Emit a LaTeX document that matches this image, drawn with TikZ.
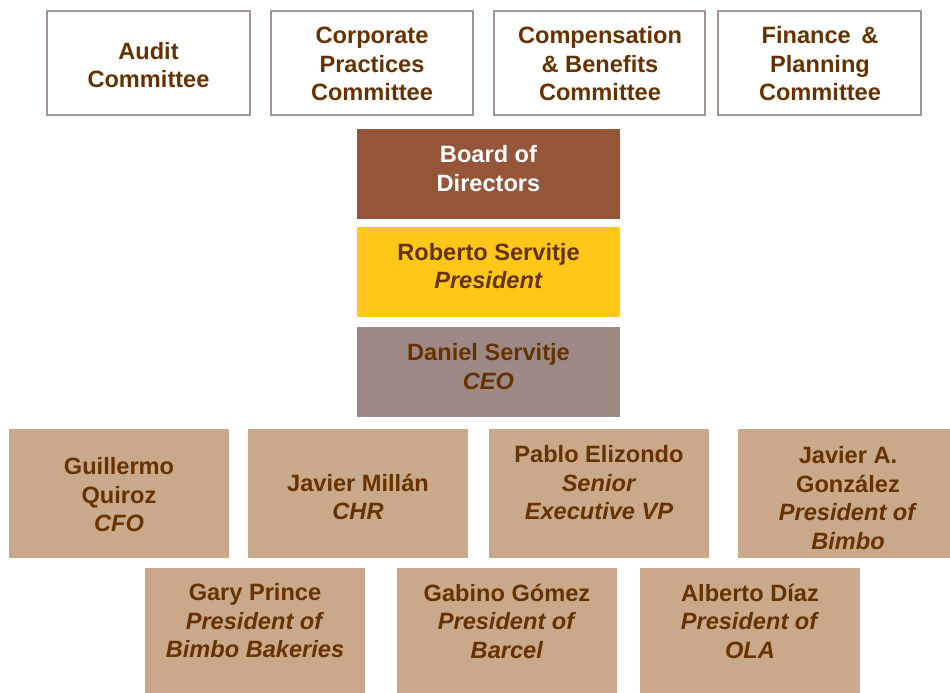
\documentclass[tikz,border=0pt]{standalone}
\usepackage{fontspec}
\setmainfont{Liberation Sans}
\begin{document}
\definecolor{txtbrown}{HTML}{663300}
\definecolor{boardred}{HTML}{955539}
\definecolor{presyellow}{HTML}{FFC819}
\definecolor{ceogray}{HTML}{9C8985}
\definecolor{execbeige}{HTML}{C9A98A}
\definecolor{frame}{HTML}{A39490}
\begin{tikzpicture}[x=1pt,y=-1pt,
  committee/.style={draw=frame,line width=1.6pt,fill=white},
  lbl/.style={align=center,text=txtbrown,inner sep=0pt,
    font=\fontsize{23.6}{28.5}\selectfont\bfseries}]
\useasboundingbox (0,0) rectangle (950,693);
% committees
\filldraw[committee] (47,11) rectangle (250,115);
\filldraw[committee] (271,11) rectangle (473,115);
\filldraw[committee] (494,11) rectangle (705,115);
\filldraw[committee] (718,11) rectangle (921,115);
\node[lbl] (audit) at (148.5,65) {Audit\\Committee};
\node[lbl] (corp) at (372,64) {Corporate\\Practices\\Committee};
\node[lbl] (comp) at (600,64) {Compensation\\\& Benefits\\Committee};
\node[lbl] (fin) at (820,64) {Finance \,\&\\Planning\\Committee};
% board, president, ceo
\fill[boardred] (357,129) rectangle (620,219);
\node[lbl,text=white] (board) at (488.5,168.5) {Board of\\Directors};
\fill[presyellow] (357,227) rectangle (620,317);
\node[lbl] (pres) at (488.5,266) {Roberto Servitje\\\textit{President}};
\fill[ceogray] (357,327) rectangle (620,417);
\node[lbl] (ceo) at (488.5,366.5) {Daniel Servitje\\\textit{CEO}};
% executives, first row
\fill[execbeige] (9,429) rectangle (229,558);
\node[lbl] (cfo) at (119,495) {Guillermo\\Quiroz\\\textit{CFO}};
\fill[execbeige] (248,429) rectangle (468,558);
\node[lbl] (chr) at (358,497) {Javier Millán\\\textit{CHR}};
\fill[execbeige] (489,429) rectangle (709,558);
\node[lbl] (svp) at (599,483) {Pablo Elizondo\\\textit{Senior}\\\textit{Executive VP}};
\fill[execbeige] (738,429) rectangle (950,558);
\node[lbl] (bimbo) at (848,498) {Javier A.\\González\\\textit{President of}\\\textit{Bimbo}};
% executives, second row
\fill[execbeige] (145,568) rectangle (365,693);
\node[lbl] (bakeries) at (255,621) {Gary Prince\\\textit{President of}\\\textit{Bimbo Bakeries}};
\fill[execbeige] (397,568) rectangle (617,693);
\node[lbl] (barcel) at (507,621) {Gabino Gómez\\\textit{President of}\\\textit{Barcel}};
\fill[execbeige] (640,568) rectangle (860,693);
\node[lbl] (ola) at (750,621) {Alberto Díaz\\\textit{President of}\\\textit{OLA}};
\end{tikzpicture}
\end{document}
